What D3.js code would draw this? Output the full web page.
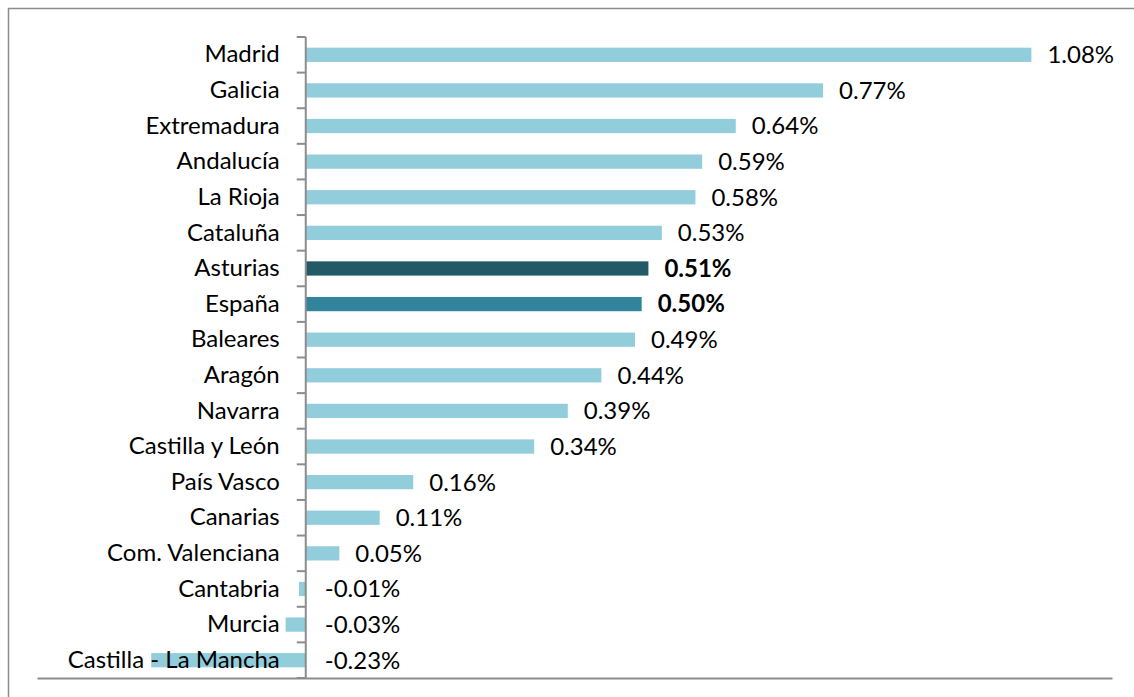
<!DOCTYPE html>
<html>
<head>
<meta charset="utf-8">
<script src="https://cdn.jsdelivr.net/npm/d3@7"></script>
<style>
  body { margin: 0; background: #fff; }
  svg { display: block; }
  text { font-family: Lato, "Open Sans", sans-serif; fill: #000; }
</style>
</head>
<body>
<div id="chart"></div>
<script>
// Chart data (growth rate, %)
var regions = ["Madrid", "Galicia", "Extremadura", "Andalucía", "La Rioja", "Cataluña",
               "Asturias", "España", "Baleares", "Aragón", "Navarra", "Castilla y León",
               "País Vasco", "Canarias", "Com. Valenciana", "Cantabria", "Murcia",
               "Castilla - La Mancha"];
var values = [1.08, 0.77, 0.64, 0.59, 0.58, 0.53, 0.51, 0.50, 0.49, 0.44, 0.39, 0.34,
              0.16, 0.11, 0.05, -0.01, -0.03, -0.23];
var highlighted = ["Asturias", "España"];

var svgWidth = 1134;
var svgHeight = 697;
var fontSize = 24;

var svg = d3.select("#chart")
            .append("svg")
            .attr("width", svgWidth)
            .attr("height", svgHeight);

// Outer chart frame (runs off the right and bottom edges)
svg.append("rect")
   .attr("x", 8.5)
   .attr("y", 8.5)
   .attr("width", 1300)
   .attr("height", 900)
   .attr("fill", "none")
   .attr("stroke", "#8c8c8c")
   .attr("stroke-width", 1.5);

var data = regions.map(function(r, i){ return {region: r, value: values[i]}; });

// Scales
var xScale = d3.scaleLinear()
    .domain([-0.4, 1.2])
    .range([37, 1112]);

var yScale = d3.scaleBand()
    .domain(regions)
    .range([37, 678])
    .paddingInner(0.6)
    .paddingOuter(0.3);

var step = yScale.step();
var gap = (step - yScale.bandwidth()) / 2;

function barColor(d){
    if (d.region === "Asturias") return "#235a68";
    if (d.region === "España") return "#31849b";
    return "#92cddc";
}

// Bars
svg.selectAll(".bar")
   .data(data)
   .enter()
   .append("rect")
   .attr("class", "bar")
   .attr("x", d => xScale(Math.min(0, d.value)))
   .attr("y", d => yScale(d.region))
   .attr("width", d => Math.abs(xScale(d.value) - xScale(0)))
   .attr("height", yScale.bandwidth())
   .attr("fill", d => barColor(d));

// Bottom axis line (no tick labels)
var bottomAxis = d3.axisBottom(xScale).tickValues([]).tickSizeOuter(0);
var xAxis = svg.append("g")
   .attr("transform", "translate(0, 678)")
   .call(bottomAxis);
xAxis.select(".domain").attr("stroke", "#8c8c8c").attr("stroke-width", 2);

// Category labels
var leftAxis = d3.axisLeft(yScale).tickSize(0).tickPadding(26);
var yAxis = svg.append("g")
   .attr("transform", `translate(${xScale(0)}, 0)`)
   .call(leftAxis);
yAxis.select(".domain").remove();
yAxis.selectAll("text")
     .attr("font-family", "Lato, 'Open Sans', sans-serif")
     .attr("font-size", fontSize)
     .attr("fill", "#000");

// Vertical axis line and tick marks between categories
var x0 = xScale(0);
svg.append("line")
   .attr("x1", x0).attr("x2", x0)
   .attr("y1", 37).attr("y2", 679)
   .attr("stroke", "#8c8c8c")
   .attr("stroke-width", 2);

var boundaries = regions.map(r => yScale(r) - gap);
boundaries.push(678);
svg.selectAll(".tick-mark")
   .data(boundaries)
   .enter()
   .append("line")
   .attr("class", "tick-mark")
   .attr("x1", x0 - 9).attr("x2", x0)
   .attr("y1", d => d).attr("y2", d => d)
   .attr("stroke", "#8c8c8c")
   .attr("stroke-width", 2);

// Value labels
svg.selectAll(".value-label")
   .data(data)
   .enter()
   .append("text")
   .attr("class", "value-label")
   .attr("x", d => d.value >= 0 ? xScale(d.value) + 16 : x0 + 19)
   .attr("y", d => yScale(d.region) + yScale.bandwidth() / 2)
   .attr("dy", "0.35em")
   .attr("font-size", fontSize)
   .attr("font-weight", d => highlighted.indexOf(d.region) >= 0 ? "bold" : "normal")
   .text(d => d.value.toFixed(2) + "%");
</script>
</body>
</html>
